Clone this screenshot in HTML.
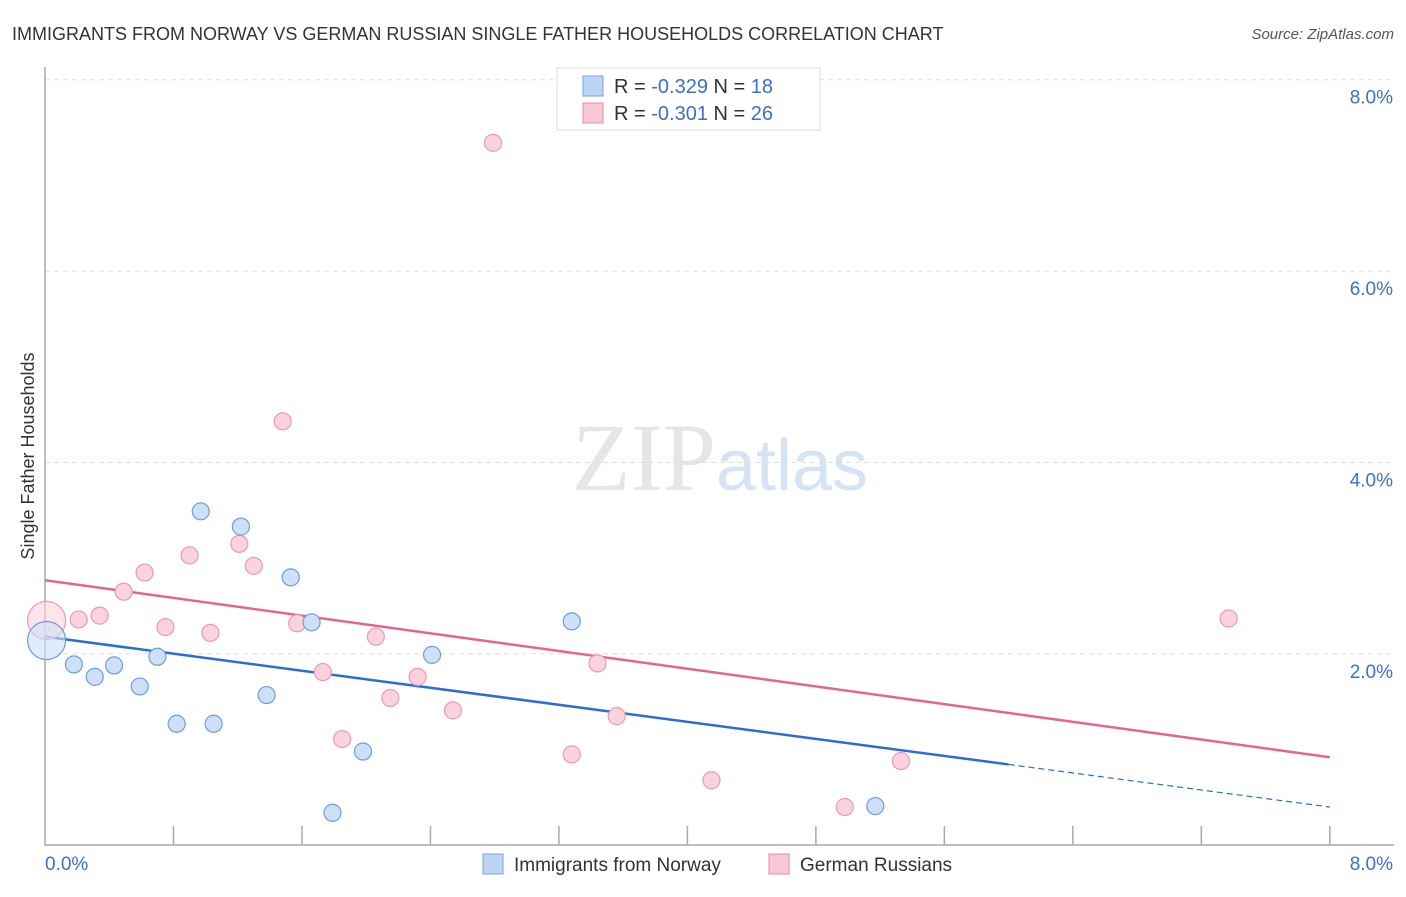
<!DOCTYPE html>
<html><head><meta charset="utf-8"><style>
body{margin:0;background:#fff;font-family:"Liberation Sans",sans-serif}
</style></head><body>
<svg id="chart" width="1406" height="892" xmlns="http://www.w3.org/2000/svg" font-family="Liberation Sans, sans-serif">
<text x="12" y="40" font-size="18" fill="#333">IMMIGRANTS FROM NORWAY VS GERMAN RUSSIAN SINGLE FATHER HOUSEHOLDS CORRELATION CHART</text>
<text x="1394" y="39" font-size="15" fill="#555" text-anchor="end" font-style="italic">Source: ZipAtlas.com</text>
<text x="720" y="490" font-size="96" text-anchor="middle" fill="#e6e6e6" font-family="Liberation Serif, serif">ZIP<tspan fill="#d5e3f5" font-family="Liberation Sans, sans-serif" font-size="72">atlas</tspan></text>
<text transform="translate(34,456) rotate(-90)" font-size="18" fill="#333" text-anchor="middle">Single Father Households</text>
<g id="grid"></g><g id="axes"></g><g id="lines"></g><g id="pts"></g>
<g>
<rect x="557" y="68" width="263" height="62" fill="#fff" stroke="#ddd"/>
<rect x="583" y="76" width="20" height="20" fill="#bcd4f5" stroke="#7aa3e0"/>
<text x="614" y="93" font-size="20" fill="#333">R = <tspan fill="#3b6fd1">-0.329</tspan>   N = <tspan fill="#3b6fd1">18</tspan></text>
<rect x="583" y="103" width="20" height="20" fill="#f9c8d6" stroke="#e88aa6"/>
<text x="614" y="120" font-size="20" fill="#333">R = <tspan fill="#3b6fd1">-0.301</tspan>   N = <tspan fill="#3b6fd1">26</tspan></text>
</g>
<g>
<rect x="483" y="854" width="20" height="20" fill="#bcd4f5" stroke="#7aa3e0"/>
<text x="514" y="871" font-size="19" fill="#333">Immigrants from Norway</text>
<rect x="769" y="854" width="20" height="20" fill="#f9c8d6" stroke="#e88aa6"/>
<text x="800" y="871" font-size="19" fill="#333">German Russians</text>
</g>
</svg>
<script>
const yTicks=[2,4,6,8];
const yTickLabels=["2.0%","4.0%","6.0%","8.0%"];
const blueX=[0.01,0.18,0.31,0.43,0.59,0.70,0.82,0.97,1.05,1.22,1.38,1.53,1.66,1.79,1.98,2.41,3.28,5.17];
const blueY=[2.14,1.89,1.76,1.88,1.66,1.97,1.27,3.49,1.27,3.33,1.57,2.80,2.33,0.34,0.98,1.99,2.34,0.41];
const pinkX=[0.01,0.21,0.34,0.49,0.62,0.75,0.90,1.03,1.21,1.30,1.48,1.57,1.73,1.85,2.06,2.15,2.32,2.54,2.79,3.28,3.44,3.56,4.15,4.98,5.33,7.37];
const pinkY=[2.35,2.36,2.40,2.65,2.85,2.28,3.03,2.22,3.15,2.92,4.43,2.32,1.81,1.11,2.18,1.54,1.76,1.41,7.34,0.95,1.90,1.35,0.68,0.40,0.88,2.37];
const blueTrend=[2.18,0.40];
const pinkTrend=[2.77,0.92];
const NS="http://www.w3.org/2000/svg";
const sx=v=>45+v*160.6, sy=v=>845.3-v*95.7;
function mk(t,a,p){const e=document.createElementNS(NS,t);for(const k in a)e.setAttribute(k,a[k]);document.getElementById(p).appendChild(e);return e;}
yTicks.forEach((t,i)=>{
 const g=mk('line',{x1:45,x2:1394,y1:sy(t),y2:sy(t),stroke:'#ddd','stroke-dasharray':'5,4'},'grid');
 
 
 const l=mk('text',{x:1393,y:sy(t)+24,'font-size':19,fill:'#3b6fd1','text-anchor':'end'},'grid');
 l.textContent=yTickLabels[i];
 
 
});
mk('line',{x1:45,x2:45,y1:67,y2:846,stroke:'#aaa','stroke-width':1.5},'axes');
mk('line',{x1:45,x2:1394,y1:845,y2:845,stroke:'#aaa','stroke-width':1.5},'axes');
for(let i=1;i<=10;i++){mk('line',{x1:sx(i*0.8),x2:sx(i*0.8),y1:826,y2:845,stroke:'#aaa','stroke-width':1.5},'axes');}
const x0=mk('text',{x:45,y:870,'font-size':19,fill:'#3b6fd1'},'axes');x0.textContent="0.0%";


const x8=mk('text',{x:1393,y:870,'font-size':19,fill:'#3b6fd1','text-anchor':'end'},'axes');x8.textContent="8.0%";


function pts(X,Y,fill,stroke,name){X.forEach((x,i)=>{
 const c=mk('circle',{cx:sx(x),cy:sy(Y[i]),r:i==0?19:8.5,fill:fill,stroke:stroke,'stroke-width':1.2,'fill-opacity':i==0?0.6:1},'pts');
 
 
});}
pts(pinkX,pinkY,'#fbd3df','#eb9ab3','german-russians-point');
pts(blueX,blueY,'#cde0f7','#6f9ce0','norway-point');
// trend lines
const bxEnd=6.0;
const by=x=>blueTrend[0]+(blueTrend[1]-blueTrend[0])*x/8;
const bl=mk('line',{x1:sx(0),y1:sy(by(0)),x2:sx(bxEnd),y2:sy(by(bxEnd)),stroke:'#2a6dd6','stroke-width':2.5},'lines');


const bd=mk('line',{x1:sx(bxEnd),y1:sy(by(bxEnd)),x2:sx(8),y2:sy(by(8)),stroke:'#2a6dd6','stroke-width':1.2,'stroke-dasharray':'6,4'},'lines');


const pl=mk('line',{x1:sx(0),y1:sy(pinkTrend[0]),x2:sx(8),y2:sy(pinkTrend[1]),stroke:'#e4668e','stroke-width':2.5},'lines');


</script>
</body></html>
